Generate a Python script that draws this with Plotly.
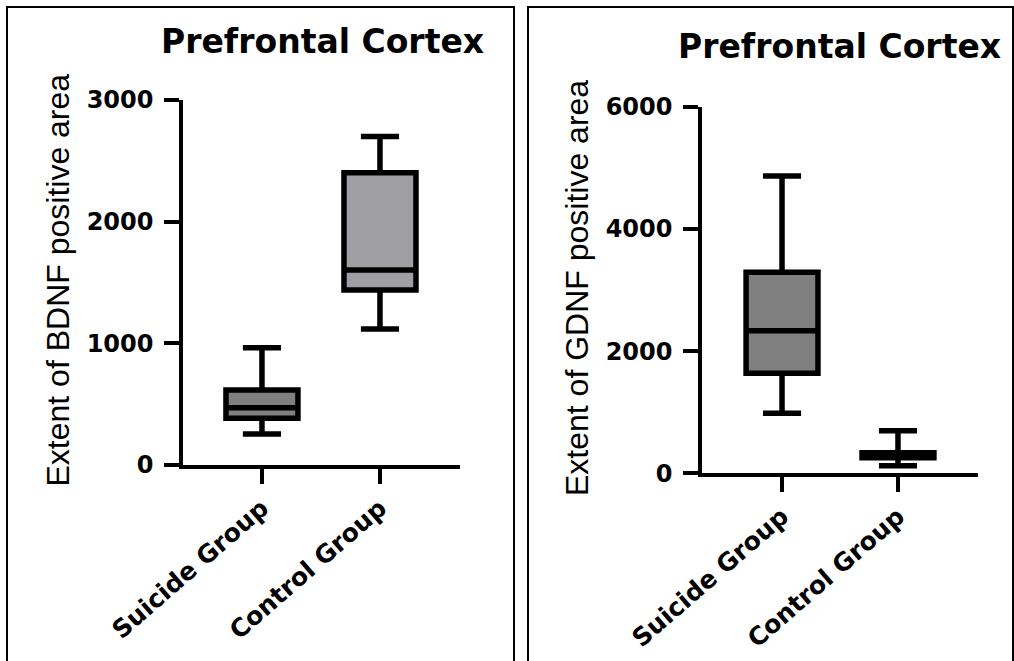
import plotly.graph_objects as go

W, H = 1014, 661

categories = ["Suicide Group", "Control Group"]

# BDNF (left panel)
bdnf_lower = [255, 1118]
bdnf_q1 = [384, 1438]
bdnf_median = [470, 1603]
bdnf_q3 = [616, 2403]
bdnf_upper = [964, 2699]
bdnf_ticks = [0, 1000, 2000, 3000]
bdnf_ticktext = ["0", "1000", "2000", "3000"]

# GDNF (right panel)
gdnf_lower = [982, 125]
gdnf_q1 = [1636, 256]
gdnf_median = [2334, 300]
gdnf_q3 = [3289, 338]
gdnf_upper = [4866, 698]
gdnf_ticks = [0, 2000, 4000, 6000]
gdnf_ticktext = ["0", "2000", "4000", "6000"]

fills = ["#808080", "#a0a0a4"]
gdnf_fills = ["#808080", "#a0a0a4"]

title_text = "Prefrontal Cortex"
ylab_left = "Extent of BDNF positive area"
ylab_right = "Extent of GDNF positive area"

def px(x):
    return x / W

def py(y):
    return (H - y) / H

fig = go.Figure()

for i, cat in enumerate(categories):
    fig.add_trace(go.Box(
        x=[cat], q1=[bdnf_q1[i]], median=[bdnf_median[i]], q3=[bdnf_q3[i]],
        lowerfence=[bdnf_lower[i]], upperfence=[bdnf_upper[i]],
        fillcolor=fills[i], line=dict(color="black", width=5.5),
        width=0.61, whiskerwidth=0.53, boxpoints=False,
        xaxis="x", yaxis="y", showlegend=False, hoverinfo="skip"))
    fig.add_trace(go.Box(
        x=[cat], q1=[gdnf_q1[i]], median=[gdnf_median[i]], q3=[gdnf_q3[i]],
        lowerfence=[gdnf_lower[i]], upperfence=[gdnf_upper[i]],
        fillcolor=gdnf_fills[i], line=dict(color="black", width=5.5),
        width=0.62, whiskerwidth=0.53, boxpoints=False,
        xaxis="x2", yaxis="y2", showlegend=False, hoverinfo="skip"))

ytickfont = dict(family="DejaVu Sans", size=24, color="black")
xtickfont = dict(family="DejaVu Sans", size=25, color="black")
common_x = dict(type="category", categoryorder="array", categoryarray=categories,
                showline=True, linecolor="black", linewidth=3.5, ticks="outside",
                ticklen=15, tickwidth=3.5, tickcolor="black", tickangle=-41,
                tickfont=xtickfont, showgrid=False, zeroline=False, fixedrange=True,
                automargin=False)
common_y = dict(showline=True, linecolor="black", linewidth=3.5, ticks="outside",
                ticklen=15, tickwidth=3.5, tickcolor="black", tickfont=ytickfont,
                showgrid=False, zeroline=False, ticklabelstandoff=6, fixedrange=True,
                automargin=False)

fig.update_layout(
    template="none",
    width=W, height=H,
    margin=dict(l=0, r=0, t=0, b=0, pad=0, autoexpand=False),
    paper_bgcolor="white", plot_bgcolor="white",
    showlegend=False,
    xaxis=dict(domain=[px(183), px(460)], range=[-0.669, 1.678], anchor="y",
               ticktext=["<b>" + c + "</b>" for c in categories], tickvals=categories,
               **common_x),
    yaxis=dict(domain=[py(465), py(100)], range=[0, 3000], anchor="x",
               tickvals=bdnf_ticks, ticktext=["<b>" + t + "</b>" for t in bdnf_ticktext],
               **common_y),
    xaxis2=dict(domain=[px(702), px(978)], range=[-0.690, 1.690], anchor="y2",
                ticktext=["<b>" + c + "</b>" for c in categories], tickvals=categories,
                **common_x),
    yaxis2=dict(domain=[py(473.3), py(106.7)], range=[0, 6000], anchor="x2",
                tickvals=gdnf_ticks, ticktext=["<b>" + t + "</b>" for t in gdnf_ticktext],
                **common_y),
)

annots = [
    dict(text="<b>" + title_text + "</b>", x=px(322), y=py(41), xref="paper", yref="paper",
         xanchor="center", yanchor="middle", showarrow=False,
         font=dict(family="DejaVu Sans", size=33, color="black")),
    dict(text="<b>" + title_text + "</b>", x=px(839), y=py(46.5), xref="paper", yref="paper",
         xanchor="center", yanchor="middle", showarrow=False,
         font=dict(family="DejaVu Sans", size=33, color="black")),
    dict(text=ylab_left, x=px(57.5), y=py(280), xref="paper", yref="paper",
         xanchor="center", yanchor="middle", textangle=-90, showarrow=False,
         font=dict(family="Liberation Sans", size=32, color="black")),
    dict(text=ylab_right, x=px(577), y=py(288), xref="paper", yref="paper",
         xanchor="center", yanchor="middle", textangle=-90, showarrow=False,
         font=dict(family="Liberation Sans", size=32, color="black")),
]
fig.update_layout(annotations=annots)

shapes = [
    dict(type="rect", xref="paper", yref="paper", x0=px(7), x1=px(514), y0=-0.05, y1=py(7),
         line=dict(color="black", width=2), fillcolor="rgba(0,0,0,0)", layer="above"),
    dict(type="rect", xref="paper", yref="paper", x0=px(528), x1=px(1013), y0=-0.05, y1=py(7),
         line=dict(color="black", width=2), fillcolor="rgba(0,0,0,0)", layer="above"),
]
fig.update_layout(shapes=shapes)

fig.write_html("out.html", config={"displayModeBar": False})
